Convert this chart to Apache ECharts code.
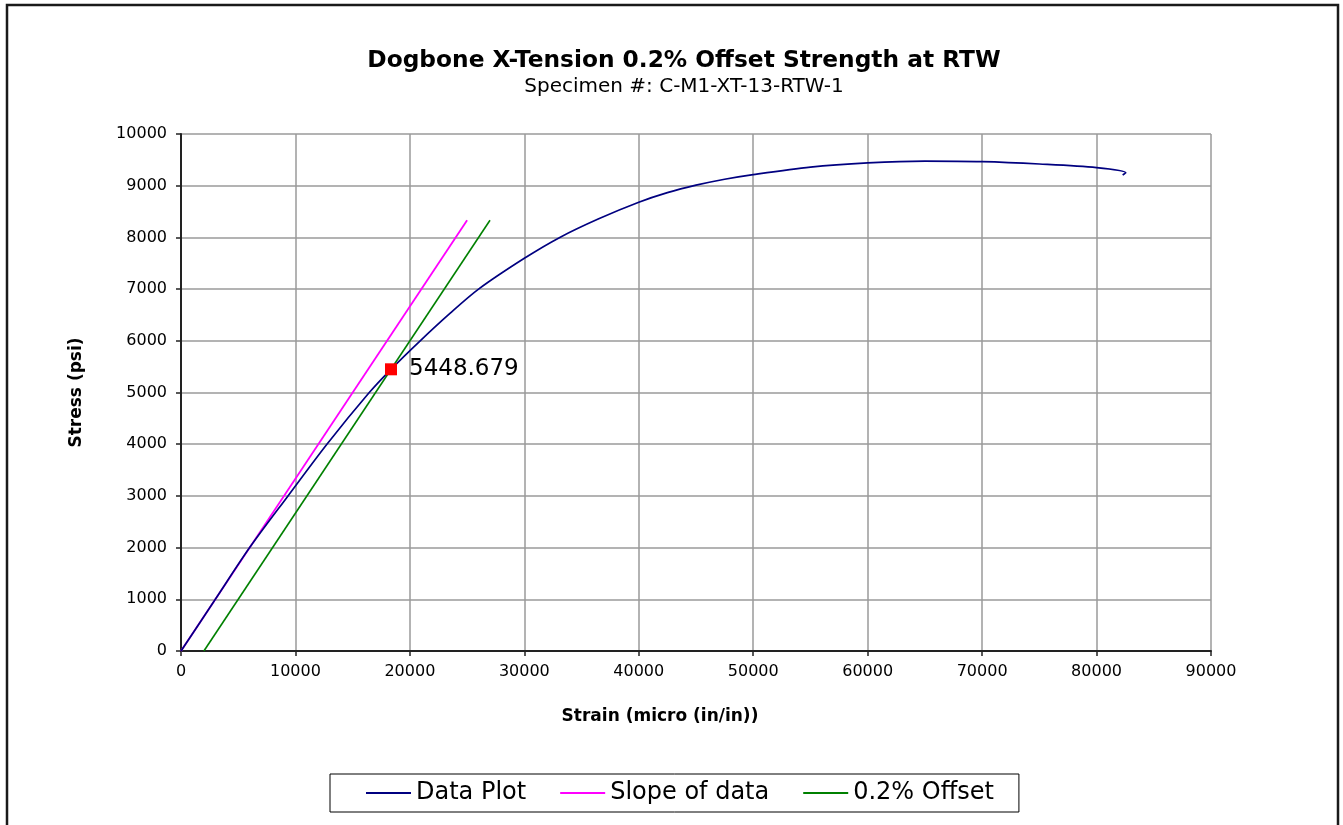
<!DOCTYPE html>
<html>
<head>
<meta charset="utf-8">
<script src="https://cdn.jsdelivr.net/npm/echarts@6/dist/echarts.min.js"></script>
<style>
html,body{margin:0;padding:0;background:#fff;}
#chart{width:1343px;height:825px;}
</style>
</head>
<body>
<div id="chart"></div>
<script>
// ---- data (strain in micro in/in, stress in psi) ----
const dataStrain = [0, 3000, 6000, 9350, 12750, 16450, 18350, 20900, 23500, 26000, 30000, 33100, 36500, 40000, 42500, 45000, 47500, 50000, 55000, 60000, 65000, 70000, 75000, 80000, 82550, 82280];
const dataStress = [0, 1000, 2000, 3000, 4000, 5000, 5449, 6000, 6530, 7000, 7596, 8000, 8360, 8680, 8865, 9010, 9125, 9215, 9360, 9440, 9475, 9465, 9420, 9350, 9252, 9207];
const slopeStrain = [0, 25000];
const slopeStress = [0, 8333];
const offsetStrain = [2000, 27000];
const offsetStress = [0, 8333];
const yieldStrain = [18350];
const yieldStress = [5448.679];
const xTicks = [0, 10000, 20000, 30000, 40000, 50000, 60000, 70000, 80000, 90000];
const yTicks = [0, 1000, 2000, 3000, 4000, 5000, 6000, 7000, 8000, 9000, 10000];
const seriesNames = ['Data Plot', 'Slope of data', '0.2% Offset'];

const zip = (a, b) => a.map((v, i) => [v, b[i]]);
const FONT = 'DejaVu Sans';

const chart = echarts.init(document.getElementById('chart'));
chart.setOption({
  animation: false,
  backgroundColor: '#fff',
  textStyle: { fontFamily: FONT },
  title: {
    text: 'Dogbone X-Tension 0.2% Offset Strength at RTW',
    subtext: 'Specimen #: C-M1-XT-13-RTW-1',
    left: 684,
    textAlign: 'center',
    top: 49,
    padding: 0,
    itemGap: 5,
    textStyle: { fontFamily: FONT, fontWeight: 'bold', fontSize: 23.3, color: '#000' },
    subtextStyle: { fontFamily: FONT, fontSize: 20, color: '#000' }
  },
  graphic: [{
    type: 'rect', silent: true, z: -1,
    shape: { x: 7, y: 5, width: 1331, height: 840 },
    style: { fill: 'none', stroke: '#1a1a1a', lineWidth: 2.5 }
  }],
  legend: {
    data: seriesNames,
    left: 330, top: 774,
    padding: [7, 25, 7, 36],
    itemGap: 34,
    itemWidth: 45, itemHeight: 2,
    icon: 'rect',
    borderColor: '#000', borderWidth: 1,
    textStyle: { fontFamily: FONT, fontSize: 24, color: '#000' }
  },
  grid: { left: 181, right: 132, top: 134, bottom: 174 },
  xAxis: {
    type: 'value', min: xTicks[0], max: xTicks[xTicks.length - 1], interval: xTicks[1] - xTicks[0],
    name: 'Strain (micro (in/in))', nameLocation: 'middle', nameGap: 57,
    nameTextStyle: { fontFamily: FONT, fontWeight: 'bold', fontSize: 17, color: '#000', padding: [0, 72, 0, 0] },
    axisLine: { onZero: false, lineStyle: { color: '#222', width: 2 } },
    axisTick: { show: true, length: 5, lineStyle: { color: '#222', width: 1.5 } },
    axisLabel: { fontFamily: FONT, fontSize: 16, color: '#000', margin: 13, formatter: (v) => String(v) },
    splitLine: { show: true, lineStyle: { color: '#9a9a9a', width: 1.5 } }
  },
  yAxis: {
    type: 'value', min: yTicks[0], max: yTicks[yTicks.length - 1], interval: yTicks[1] - yTicks[0],
    name: 'Stress (psi)', nameLocation: 'middle', nameGap: 96,
    nameTextStyle: { fontFamily: FONT, fontWeight: 'bold', fontSize: 17, color: '#000' },
    axisLine: { show: true, onZero: false, lineStyle: { color: '#222', width: 2 } },
    axisTick: { show: true, length: 5, lineStyle: { color: '#222', width: 1.5 } },
    axisLabel: { fontFamily: FONT, fontSize: 16, color: '#000', margin: 14, formatter: (v) => String(v) },
    splitLine: { show: true, lineStyle: { color: '#9a9a9a', width: 1.5 } }
  },
  series: [
    {
      name: seriesNames[0], type: 'line', data: zip(dataStrain, dataStress),
      smooth: 0.3, symbol: 'none', color: '#000080',
      lineStyle: { color: '#000080', width: 1.7 }, z: 3
    },
    {
      name: seriesNames[1], type: 'line', data: zip(slopeStrain, slopeStress),
      symbol: 'none', color: '#ff00ff',
      lineStyle: { color: '#ff00ff', width: 1.8 }, z: 2
    },
    {
      name: seriesNames[2], type: 'line', data: zip(offsetStrain, offsetStress),
      symbol: 'none', color: '#008000',
      lineStyle: { color: '#008000', width: 1.6 }, z: 2
    },
    {
      name: 'Yield', type: 'scatter', data: zip(yieldStrain, yieldStress),
      symbol: 'rect', symbolSize: 12, itemStyle: { color: '#ff0000', opacity: 1 }, z: 5,
      label: {
        show: true, position: 'right', distance: 12,
        formatter: (p) => p.value[1].toFixed(3),
        fontFamily: FONT, fontSize: 23, color: '#000'
      }
    }
  ]
});
</script>
</body>
</html>
